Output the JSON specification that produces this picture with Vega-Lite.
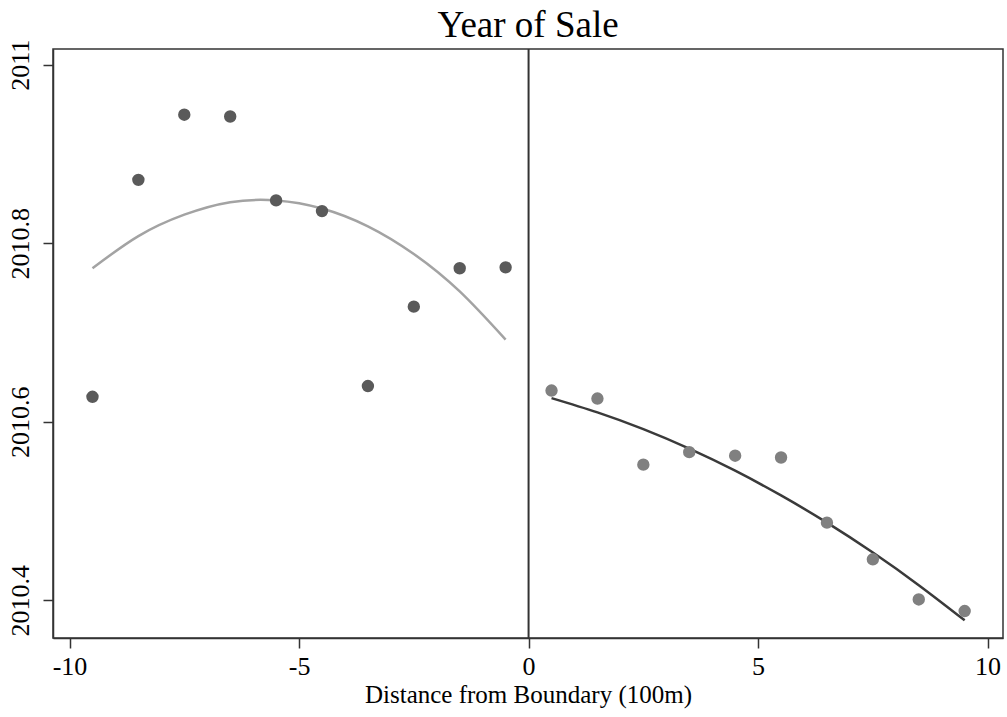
{
  "$schema": "https://vega.github.io/schema/vega-lite/v6.json",
  "width": 950,
  "height": 589,
  "autosize": "none",
  "padding": {"left": 53, "top": 49, "right": 4, "bottom": 79},
  "background": "white",
  "title": {
    "text": "Year of Sale",
    "font": "Liberation Serif",
    "fontSize": 37,
    "fontWeight": "normal",
    "color": "black",
    "anchor": "middle",
    "offset": -6
  },
  "config": {
    "view": {"stroke": "#333333", "strokeWidth": 1.5},
    "axis": {
      "labelFont": "Liberation Serif",
      "titleFont": "Liberation Serif",
      "labelFontSize": 26,
      "titleFontSize": 25,
      "labelColor": "black",
      "titleColor": "black",
      "titleFontWeight": "normal",
      "grid": false,
      "domainColor": "#333333",
      "domainWidth": 1.5,
      "tickColor": "#333333",
      "tickWidth": 1.5,
      "tickSize": 10
    }
  },
  "datasets": {
    "leftBins": [
      {"distance": -9.5, "year": 2010.628},
      {"distance": -8.5, "year": 2010.871},
      {"distance": -7.5, "year": 2010.944},
      {"distance": -6.5, "year": 2010.942},
      {"distance": -5.5, "year": 2010.848},
      {"distance": -4.5, "year": 2010.836},
      {"distance": -3.5, "year": 2010.640},
      {"distance": -2.5, "year": 2010.729},
      {"distance": -1.5, "year": 2010.772},
      {"distance": -0.5, "year": 2010.773}
    ],
    "rightBins": [
      {"distance": 0.5, "year": 2010.635},
      {"distance": 1.5, "year": 2010.626},
      {"distance": 2.5, "year": 2010.552},
      {"distance": 3.5, "year": 2010.566},
      {"distance": 4.5, "year": 2010.562},
      {"distance": 5.5, "year": 2010.560},
      {"distance": 6.5, "year": 2010.487},
      {"distance": 7.5, "year": 2010.446},
      {"distance": 8.5, "year": 2010.401},
      {"distance": 9.5, "year": 2010.388}
    ],
    "leftFit": [
      {"distance": -9.5, "fitted": 2010.772},
      {"distance": -8.5, "fitted": 2010.808},
      {"distance": -7.5, "fitted": 2010.832},
      {"distance": -6.5, "fitted": 2010.846},
      {"distance": -5.5, "fitted": 2010.848},
      {"distance": -4.5, "fitted": 2010.839},
      {"distance": -3.5, "fitted": 2010.819},
      {"distance": -2.5, "fitted": 2010.788},
      {"distance": -1.5, "fitted": 2010.746},
      {"distance": -0.5, "fitted": 2010.692}
    ],
    "rightFit": [
      {"distance": 0.5, "fitted": 2010.6265},
      {"distance": 1.5, "fitted": 2010.6105},
      {"distance": 2.5, "fitted": 2010.5917},
      {"distance": 3.5, "fitted": 2010.5699},
      {"distance": 4.5, "fitted": 2010.5452},
      {"distance": 5.5, "fitted": 2010.5175},
      {"distance": 6.5, "fitted": 2010.487},
      {"distance": 7.5, "fitted": 2010.4535},
      {"distance": 8.5, "fitted": 2010.417},
      {"distance": 9.5, "fitted": 2010.3776}
    ],
    "boundary": [{"distance": 0}]
  },
  "layer": [
    {
      "data": {"name": "boundary"},
      "mark": {"type": "rule", "color": "#333333", "strokeWidth": 2},
      "encoding": {
        "x": {
          "field": "distance",
          "type": "quantitative",
          "scale": {"domain": [-10.36, 10.335], "nice": false, "zero": false},
          "axis": {
            "values": [-10, -5, 0, 5, 10],
            "labelExpr": "datum.value + ''",
            "title": "Distance from Boundary (100m)",
            "labelPadding": 5,
            "titlePadding": 3
          }
        }
      }
    },
    {
      "data": {"name": "leftFit"},
      "mark": {"type": "line", "color": "#a3a3a3", "strokeWidth": 2.5, "interpolate": "natural"},
      "encoding": {
        "x": {"field": "distance", "type": "quantitative"},
        "y": {
          "field": "fitted",
          "type": "quantitative",
          "scale": {"domain": [2010.3578, 2011.0176], "nice": false, "zero": false},
          "axis": {
            "values": [2010.4, 2010.6, 2010.8, 2011],
            "format": ".6~g",
            "labelAngle": -90,
            "labelAlign": "center",
            "labelBaseline": "bottom",
            "labelPadding": 10,
            "title": null
          }
        }
      }
    },
    {
      "data": {"name": "rightFit"},
      "mark": {"type": "line", "color": "#3a3a3a", "strokeWidth": 2.5, "interpolate": "natural"},
      "encoding": {
        "x": {"field": "distance", "type": "quantitative"},
        "y": {"field": "fitted", "type": "quantitative"}
      }
    },
    {
      "data": {"name": "leftBins"},
      "mark": {"type": "circle", "color": "#5a5a5a", "opacity": 1, "size": 154},
      "encoding": {
        "x": {"field": "distance", "type": "quantitative"},
        "y": {"field": "year", "type": "quantitative"}
      }
    },
    {
      "data": {"name": "rightBins"},
      "mark": {"type": "circle", "color": "#808080", "opacity": 1, "size": 154},
      "encoding": {
        "x": {"field": "distance", "type": "quantitative"},
        "y": {"field": "year", "type": "quantitative"}
      }
    }
  ]
}
